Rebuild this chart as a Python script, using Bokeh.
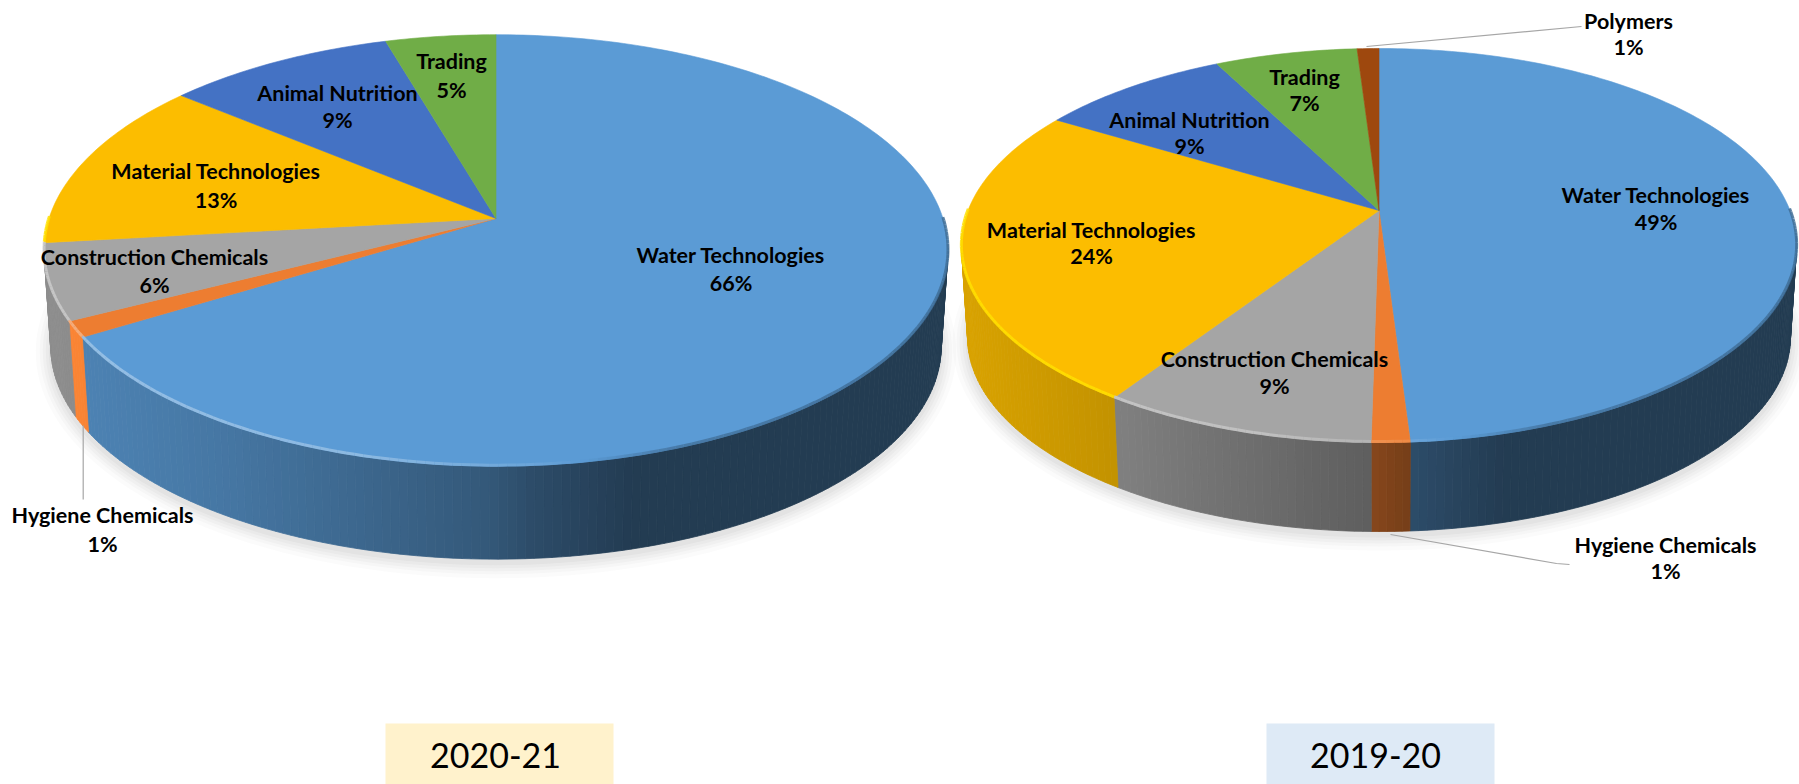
import numpy as np
from bokeh.plotting import figure
from bokeh.models import Range1d, ColumnDataSource
from bokeh.core.properties import value
from bokeh.embed import file_html
from bokeh.resources import INLINE

# ---- data ----
left_names = ["Water Technologies", "Hygiene Chemicals", "Construction Chemicals",
              "Material Technologies", "Animal Nutrition", "Trading"]
left_values = [66.3, 1.2, 5.7, 12.8, 9.45, 4.55]
right_names = ["Water Technologies", "Hygiene Chemicals", "Construction Chemicals",
               "Material Technologies", "Animal Nutrition", "Trading", "Polymers"]
right_values = [49.0, 1.25, 9.0, 24.4, 8.8, 6.55, 1.0]
left_title = "2020-21"
right_title = "2019-20"

# ---- styles & layout ----
colors = ["#5B9BD5", "#ED7D31", "#A5A5A5", "#FCBD00", "#4472C4", "#70AD47", "#9E480E"]
left_gain = [1, 1.25, 1, 1, 1, 1, 1]
right_gain = [1, 1, 1, 1, 1, 1, 1]
left_geom = dict(cx=495.5, ay=218, a=447, b=211, k=0.148, s=0.985, dy=96.7)
right_geom = dict(cx=1378.5, ay=210, a=411, b=190.8, k=0.1776, s=0.985, dy=92.5)
left_label_xy = [(730.5, 254, 282), (102, 514, 543), (154, 256, 284),
                 (215.5, 170, 199), (337, 92, 119.5), (451, 60, 89)]
right_label_xy = [(1655.5, 194, 221), (1665, 544, 570), (1274, 358, 385),
                  (1091, 229, 255), (1189, 119.5, 145), (1304, 76, 102.5), (1628, 20, 46)]
leaders = [([82.7, 82.7], [425, 499]),
           ([1366, 1581], [46, 26]),
           ([1390, 1556, 1569], [534, 563, 564])]
title_boxes = [(385, 613, 495, left_title, "#FFF2CC"), (1266, 1494, 1375, right_title, "#DEEAF6")]
FONT = "Lato"

p = figure(width=1799, height=784, x_range=Range1d(0, 1799), y_range=Range1d(784, 0),
           output_backend="svg", toolbar_location=None, min_border=0)
p.axis.visible = False
p.grid.visible = False
p.outline_line_color = None
p.background_fill_color = "white"


def rim(g, theta, s=1.0, dy=0.0):
    u, v = np.sin(theta), np.cos(theta)
    den = 1 + g["k"] * v
    return g["cx"] + s * g["a"] * u / den, g["ay"] + dy - s * g["b"] * v / den


def to_hex(rgb):
    return "#%02x%02x%02x" % tuple(int(np.clip(round(c), 0, 255)) for c in rgb)


def rgb(h):
    return np.array([int(h[i:i + 2], 16) for i in (1, 3, 5)], float)


def draw_pie(values, names, gains, g, label_xy):
    edges = np.cumsum([0] + values) / sum(values) * 2 * np.pi
    rx = g["a"] / np.sqrt(1 - g["k"] ** 2)

    # soft shadow
    th = np.linspace(0, 2 * np.pi, 181)
    for grow, alpha in [(15, .025), (11, .03), (8, .035), (5, .04), (2, .05)]:
        sx, sy = rim(g, th, g["s"], g["dy"] + 4)
        mx, my = sx.mean(), sy.mean()
        fx = 1 + grow / (sx.max() - mx)
        fy = 1 + grow / (sy.max() - my)
        p.patch(mx + (sx - mx) * fx, my + (sy - my) * fy, fill_color="#606060",
                fill_alpha=alpha, line_color=None)

    # side wall, in strips shaded from left to right
    xs, ys, fc = [], [], []
    for i in range(len(values)):
        n = max(2, int(np.degrees(edges[i + 1] - edges[i])) + 1)
        ts = np.linspace(edges[i], edges[i + 1], n + 1)
        for t0, t1 in zip(ts[:-1], ts[1:]):
            if np.cos((t0 + t1) / 2) > -0.115:
                continue
            x0, y0 = rim(g, t0)
            x1, y1 = rim(g, t1)
            x2, y2 = rim(g, t1, g["s"], g["dy"])
            x3, y3 = rim(g, t0, g["s"], g["dy"])
            nx = ((x0 + x1) / 2 - g["cx"]) / rx
            f = np.interp(nx, [-1, -.62, -.02, .08, .3, 1], [.86, .77, .57, .49, .385, .385])
            xs.append([x0, x1, x2, x3])
            ys.append([y0, y1, y2, y3])
            fc.append(to_hex(rgb(colors[i]) * f * gains[i]))
    p.patches(xs="xs", ys="ys", fill_color="fc", line_color="fc", line_width=0.8,
              source=ColumnDataSource(dict(xs=xs, ys=ys, fc=fc)))

    # top faces
    xs, ys, fc = [], [], []
    for i in range(len(values)):
        n = max(2, int(np.degrees(edges[i + 1] - edges[i])) + 1)
        ts = np.linspace(edges[i], edges[i + 1], n + 1)
        x, y = rim(g, ts)
        xs.append([g["cx"]] + list(x))
        ys.append([g["ay"]] + list(y))
        fc.append(colors[i])
    p.patches(xs="xs", ys="ys", fill_color="fc", line_color="fc", line_width=0.6,
              source=ColumnDataSource(dict(xs=xs, ys=ys, fc=fc)))

    # bevel along the front rim
    xs, ys, fc = [], [], []
    for i in range(len(values)):
        n = max(2, int(np.degrees(edges[i + 1] - edges[i])) + 1)
        ts = np.linspace(edges[i], edges[i + 1], n + 1)
        for t0, t1 in zip(ts[:-1], ts[1:]):
            if np.cos((t0 + t1) / 2) > 0.0:
                continue
            x0, y0 = rim(g, t0)
            x1, y1 = rim(g, t1)
            nx = ((x0 + x1) / 2 - g["cx"]) / rx
            mix = np.interp(nx, [-1, -.3, .1, .4, 1], [.42, .36, .1, -.25, -.3])
            base = rgb(colors[i])
            if i == 3:
                c = np.array([255, 225, 0.0])
            elif mix >= 0:
                c = base + (np.array([255, 255, 255.0]) - base) * mix
            else:
                c = base * (1 + mix)
            xs.append([x0, x1])
            ys.append([y0 - 1, y1 - 1])
            fc.append(to_hex(c))
    p.multi_line(xs="xs", ys="ys", line_color="fc", line_width=3, line_alpha=0.85,
                 source=ColumnDataSource(dict(xs=xs, ys=ys, fc=fc)))

    # labels
    tx, ty, tt = [], [], []
    for nm, val, (lx, y1, y2) in zip(names, values, label_xy):
        tx += [lx, lx]
        ty += [y1, y2]
        tt += [nm, f"{round(val)}%"]
    p.text(x="x", y="y", text="t", text_font=value(FONT), text_font_style="bold",
           text_font_size="21.5px", text_align="center", text_baseline="middle",
           text_color="#000000", source=ColumnDataSource(dict(x=tx, y=ty, t=tt)))


draw_pie(left_values, left_names, left_gain, left_geom, left_label_xy)
draw_pie(right_values, right_names, right_gain, right_geom, right_label_xy)

for lx, ly in leaders:
    p.line(lx, ly, line_color="#A6A6A6", line_width=1.2)

for x0, x1, xc, label, col in title_boxes:
    p.quad(left=x0, right=x1, top=723, bottom=790, fill_color=col, line_color=None)
    p.text(x=[xc], y=[755], text=[label], text_font=value(FONT), text_font_size="34px",
           text_align="center", text_baseline="middle", text_color="#000000")

open("out.html", "w").write(file_html(p, INLINE))
